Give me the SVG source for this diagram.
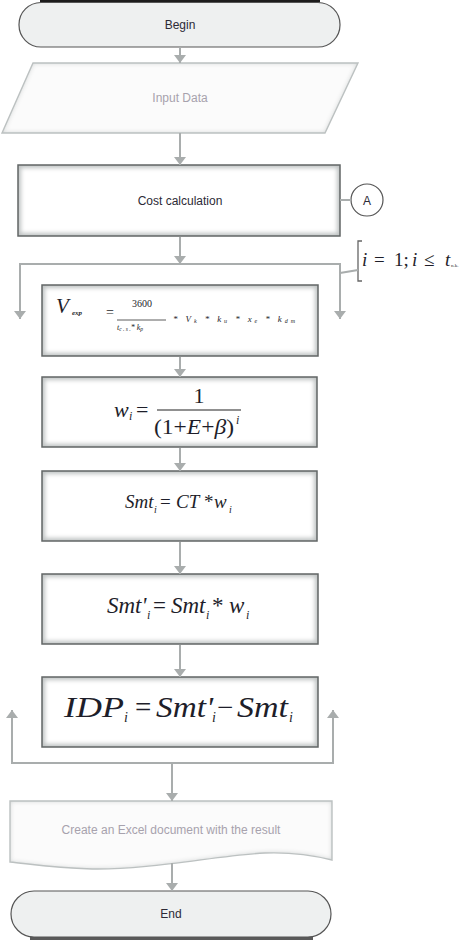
<svg xmlns="http://www.w3.org/2000/svg" width="474" height="940" viewBox="0 0 474 940">
<style>
.bg{fill:#ffffff}
.term{fill:#eef0f0;stroke:#555;stroke-width:1.2}
.edge{fill:#bfc3c3}
.core{fill:#ffffff;filter:url(#soft)}
.procS{fill:none;stroke:#626666;stroke-width:1.5}
.io{fill:#fbfbfb;filter:url(#inset)}
.ioS{fill:none;stroke:#bcc1c1;stroke-width:1.4}
.conn{fill:none;stroke:#a9adad;stroke-width:2}
.lbl{font-family:"Liberation Sans",Arial,sans-serif;font-size:12px;text-anchor:middle}
.dark{fill:#2c2a36}
.light{fill:#a7a2ad}
.m{font-family:"Liberation Serif","Times New Roman",serif;fill:#1e1e2a}
.it{font-style:italic}
</style>
<defs>
<marker id="ah" viewBox="0 0 8 12" markerWidth="8" markerHeight="12" refX="8" refY="6" orient="auto" markerUnits="userSpaceOnUse">
<path d="M0,0 L8,6 L0,12 Z" fill="#a9adad"/>
</marker>
<filter id="soft" x="-10%" y="-20%" width="120%" height="140%">
<feGaussianBlur stdDeviation="2"/>
</filter>
<filter id="inset" x="-10%" y="-20%" width="120%" height="140%">
<feComponentTransfer in="SourceAlpha" result="inv"><feFuncA type="table" tableValues="1 0"/></feComponentTransfer>
<feGaussianBlur in="inv" stdDeviation="2.5" result="blur"/>
<feFlood flood-color="#c8cccc" flood-opacity="1" result="col"/>
<feComposite in="col" in2="blur" operator="in" result="sh"/>
<feComposite in="sh" in2="SourceAlpha" operator="in" result="ish"/>
<feMerge><feMergeNode in="SourceGraphic"/><feMergeNode in="ish"/></feMerge>
</filter>
</defs>
<rect class="bg" x="0" y="0" width="474" height="940"/>

<g id="begin">
<rect x="40" y="0" width="280" height="2.5" fill="#1c1c1c"/>
<rect class="term" x="19" y="2.5" width="321" height="44.5" rx="22" ry="22"/>
<text class="lbl dark" x="180" y="28.5">Begin</text>
</g>

<g id="input">
<path class="io" d="M33,63 L358,63 L325,133 L2,133 Z"/>
<path class="ioS" d="M33,63 L358,63 L325,133 L2,133 Z"/>
<text class="lbl light" x="180" y="101.5">Input Data</text>
</g>

<g id="cost">
<rect class="edge" x="18" y="165" width="322" height="71"/>
<rect class="core" x="21" y="168" width="316" height="65"/>
<rect class="procS" x="18" y="165" width="322" height="71"/>
<text class="lbl dark" x="180" y="204.5">Cost calculation</text>
</g>

<g id="connectorA">
<circle cx="367" cy="200" r="16" fill="#ffffff" stroke="#555" stroke-width="1.2"/>
<text class="lbl dark" x="367" y="204.5">A</text>
</g>

<g id="loopCondition">
<path d="M362,241 L358,241 L358,281 L362,281" fill="none" stroke="#666" stroke-width="1.3"/>
<text class="m it" x="362" y="266" font-size="19">i</text>
<text class="m" x="374" y="266" font-size="19">=</text>
<text class="m" x="394" y="266" font-size="19">1;</text>
<text class="m it" x="412" y="266" font-size="19">i</text>
<text class="m" x="424" y="266" font-size="19">≤</text>
<text class="m it" x="445" y="266" font-size="19">t</text>
<text class="m" x="451" y="267" font-size="5" fill="#777">n.k.</text>
</g>

<g id="vexp">
<rect class="edge" x="42" y="285" width="276" height="71"/>
<rect class="core" x="45" y="288" width="270" height="65"/>
<rect class="procS" x="42" y="285" width="276" height="71"/>
<text class="m it" x="56" y="313" font-size="21">V</text>
<text class="m it" x="72" y="315" font-size="7" font-weight="bold">exp</text>
<text class="m" x="106" y="317" font-size="14">=</text>
<text class="m" x="142" y="307" font-size="10" text-anchor="middle">3600</text>
<line x1="117" y1="320" x2="166" y2="320" stroke="#333" stroke-width="0.8"/>
<text class="m it" x="117" y="330" font-size="8">t<tspan font-size="5.5" dy="1">c . s .</tspan><tspan dy="-1">* k</tspan><tspan font-size="5.5" dy="1">p</tspan></text>
<text class="m it" x="173" y="322" font-size="9" textLength="122" lengthAdjust="spacing">* V<tspan font-size="6" dy="1">k</tspan><tspan dy="-1"> * k</tspan><tspan font-size="6" dy="1">u</tspan><tspan dy="-1"> * x</tspan><tspan font-size="6" dy="1">e</tspan><tspan dy="-1"> * k</tspan><tspan font-size="6" dy="1">dm</tspan></text>
</g>

<g id="weight">
<rect class="edge" x="42" y="377" width="275" height="70"/>
<rect class="core" x="45" y="380" width="269" height="64"/>
<rect class="procS" x="42" y="377" width="275" height="70"/>
<text class="m it" x="114" y="417" font-size="22">w</text>
<text class="m it" x="129" y="420" font-size="12">i</text>
<text class="m" x="136" y="417" font-size="22">=</text>
<text class="m" x="199" y="403" font-size="22" text-anchor="middle">1</text>
<line x1="157" y1="410" x2="241" y2="410" stroke="#222" stroke-width="1.2"/>
<text class="m" x="154" y="434" font-size="22" textLength="80" lengthAdjust="spacingAndGlyphs">(1+<tspan font-style="italic">E</tspan>+<tspan font-style="italic">β</tspan>)</text>
<text class="m it" x="236" y="424" font-size="12">i</text>
</g>

<g id="smt">
<rect class="edge" x="42" y="471" width="275" height="70"/>
<rect class="core" x="45" y="474" width="269" height="64"/>
<rect class="procS" x="42" y="471" width="275" height="70"/>
<text class="m it" x="125" y="508" font-size="19">Smt</text>
<text class="m it" x="154" y="513" font-size="10">i</text>
<text class="m" x="160" y="508" font-size="19">=</text>
<text class="m it" x="176" y="508" font-size="19">CT</text>
<text class="m" x="204" y="508" font-size="19">*</text>
<text class="m it" x="214" y="508" font-size="19">w</text>
<text class="m it" x="229" y="513" font-size="10">i</text>
</g>

<g id="smtprime">
<rect class="edge" x="42" y="574" width="276" height="70"/>
<rect class="core" x="45" y="577" width="270" height="64"/>
<rect class="procS" x="42" y="574" width="276" height="70"/>
<text class="m it" x="107" y="613" font-size="23">Smt'</text>
<text class="m it" x="147" y="619" font-size="12">i</text>
<text class="m" x="153" y="613" font-size="23">=</text>
<text class="m it" x="171" y="613" font-size="23">Smt</text>
<text class="m it" x="206" y="619" font-size="12">i</text>
<text class="m" x="212" y="613" font-size="23">*</text>
<text class="m it" x="229" y="613" font-size="23">w</text>
<text class="m it" x="246" y="619" font-size="12">i</text>
</g>

<g id="idp">
<rect class="edge" x="42" y="677" width="276" height="70"/>
<rect class="core" x="45" y="680" width="270" height="64"/>
<rect class="procS" x="42" y="677" width="276" height="70"/>
<text class="m it" x="64" y="717" font-size="29" textLength="60" lengthAdjust="spacingAndGlyphs">IDP</text>
<text class="m it" x="124" y="722" font-size="14">i</text>
<text class="m" x="135" y="717" font-size="29">=</text>
<text class="m it" x="156" y="717" font-size="29" textLength="57" lengthAdjust="spacingAndGlyphs">Smt'</text>
<text class="m it" x="212" y="722" font-size="14">i</text>
<text class="m" x="217" y="717" font-size="29">−</text>
<text class="m it" x="237" y="717" font-size="29" textLength="51" lengthAdjust="spacingAndGlyphs">Smt</text>
<text class="m it" x="289" y="722" font-size="14">i</text>
</g>

<g id="document">
<path class="io" d="M10,801 L332,801 L332,860 C312,855 292,852 265,853 C220,855 150,870 92,869 C52,868 30,864 10,862 Z"/>
<path class="ioS" d="M10,801 L332,801 L332,860 C312,855 292,852 265,853 C220,855 150,870 92,869 C52,868 30,864 10,862 Z"/>
<text class="lbl light" x="171" y="834">Create an Excel document with the result</text>
</g>

<g id="end">
<rect x="30" y="936" width="283" height="4" fill="#5a5a5a"/>
<rect class="term" x="11" y="891" width="320" height="46" rx="23" ry="23"/>
<text class="lbl dark" x="171" y="918">End</text>
</g>

<g id="connectors">
<line class="conn" x1="180" y1="47" x2="180" y2="63" marker-end="url(#ah)"/>
<line class="conn" x1="180" y1="133" x2="180" y2="165" marker-end="url(#ah)"/>
<line class="conn" x1="340" y1="200" x2="351" y2="200"/>
<line class="conn" x1="180" y1="237" x2="180" y2="264" marker-end="url(#ah)"/>
<polyline class="conn" points="20,319 20,264 340,264 340,319"/>
<line class="conn" x1="20" y1="300" x2="20" y2="319" marker-end="url(#ah)"/>
<line class="conn" x1="340" y1="300" x2="340" y2="319" marker-end="url(#ah)"/>
<polyline class="conn" points="340,273 358,270"/>
<line class="conn" x1="180" y1="357" x2="180" y2="377" marker-end="url(#ah)"/>
<line class="conn" x1="180" y1="448" x2="180" y2="471" marker-end="url(#ah)"/>
<line class="conn" x1="180" y1="542" x2="180" y2="574" marker-end="url(#ah)"/>
<line class="conn" x1="180" y1="645" x2="180" y2="677" marker-end="url(#ah)"/>
<polyline class="conn" points="12,711 12,763 333,763 333,711"/>
<line class="conn" x1="12" y1="730" x2="12" y2="710" marker-end="url(#ah)"/>
<line class="conn" x1="333" y1="730" x2="333" y2="710" marker-end="url(#ah)"/>
<line class="conn" x1="172" y1="763" x2="172" y2="801" marker-end="url(#ah)"/>
<line class="conn" x1="172" y1="863" x2="172" y2="891" marker-end="url(#ah)"/>
</g>
</svg>
